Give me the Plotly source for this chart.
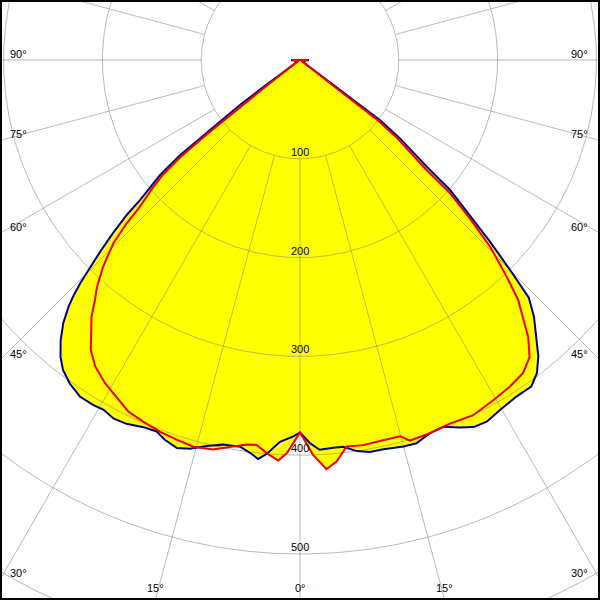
import numpy as np
import plotly.graph_objects as go

# ---- data: luminous intensity (cd/klm) vs angle (deg, negative = left half) ----
blue_angles = [-90, -60, -53.5, -53.1, -52.4, -52.0, -51.6, -50.6, -49.5, -48.8, -48.2, -47.2,
               -46.2, -45.4, -44.6, -43.8, -43.2, -42.0, -40.5, -38.9, -37.4, -35.4, -33.2,
               -30.9, -29.3, -27.5, -25.5, -23.1, -21.1, -19.6, -17.6, -15.8, -13.6, -11.3,
               -8.8, -7.2, -6.0, -4.8, -3.0, -1.0, 0, 1.5, 2.9, 4.9, 6.4, 8.25, 10.1, 12.1,
               14.0, 15.0, 16.9, 19.2, 21.35, 23.5, 25.3, 27.3, 29.7, 32.8, 35.3, 37.1, 38.8,
               40.5, 42.35, 43.9, 45.0, 46.3, 47.6, 49.1, 49.9, 51.9, 53.1, 53.1, 53.5, 60, 90]
blue_values = [9, 2, 50, 76, 102, 128, 155, 183, 200, 215, 235, 258,
               280, 298, 316, 332, 342, 358, 373, 386, 395, 402, 407,
               407, 406, 409, 408, 404, 403, 408, 412, 409, 402, 397,
               396, 401, 406, 400, 387, 381, 377, 388, 395, 394, 394, 400, 403, 403,
               404, 405, 405.5, 400, 398.5, 405.5, 411, 412, 408, 405, 405, 397.5, 385,
               368.5, 351.5, 334, 301, 266, 233, 201, 168, 128.6, 101, 76, 50, 2, 9]

red_angles = [-90, -60, -52.3, -51.95, -51.5, -51.3, -51.0, -50.1, -49.0, -47.5, -46.7, -45.5,
              -43.6, -42.1, -41.5, -40.5, -39.05, -35.8, -33.75, -31.1, -28.6, -26.0, -23.4,
              -20.6, -18.0, -15.4, -12.6, -10.2, -7.9, -6.4, -4.8, -3.1, -1.9, 0, 1.9, 3.7,
              5.2, 6.9, 9.3, 12.3, 14.9, 16.1, 19.2, 22.4, 26.0, 29.6, 32.7, 35.5, 37.7, 39.5,
              41.0, 42.3, 43.65, 45.5, 47.0, 48.4, 49.0, 51.2, 52.25, 52.0, 52.3, 60, 90]
red_values = [8, 2, 45, 74, 100, 126, 153, 181, 198, 220, 241, 265,
              289, 305, 311, 319.5, 335, 362, 373, 382, 388, 396, 399,
              402, 404, 406, 404, 398, 393, 392, 399.5, 406, 398, 377, 400, 415,
              408, 394, 395, 394, 394, 401, 400, 398, 400, 396, 393, 389, 380, 363,
              344, 328, 303, 270, 235, 203, 170, 126.5, 99, 74, 45, 2, 8]

ring_values = [100, 200, 300, 400, 500, 600]
ring_labels = ["100", "200", "300", "400", "500"]
side_angles = [90, 75, 60, 45, 30]
bottom_angles = [-15, 0, 15]

# ---- geometry ----
PX = 0.988                      # pixels per unit
X_HALF = 300 / PX
Y_TOP = 60 / PX
Y_BOT = -540 / PX


def to_xy(angles, values):
    a = np.radians(np.asarray(angles, dtype=float))
    v = np.asarray(values, dtype=float)
    return v * np.sin(a), -v * np.cos(a)


fig = go.Figure()

# yellow fill (union of both curves)
for ang, val in ((blue_angles, blue_values), (red_angles, red_values)):
    x, y = to_xy(ang, val)
    fig.add_trace(go.Scatter(x=x, y=y, mode="lines", fill="toself",
                             fillcolor="#ffff00", line=dict(width=0, color="#ffff00"),
                             hoverinfo="skip", showlegend=False))

GRID = "rgba(130,130,130,0.55)"
# rings
t = np.linspace(0, 2 * np.pi, 721)
for r in ring_values:
    fig.add_trace(go.Scatter(x=r * np.sin(t), y=r * np.cos(t), mode="lines",
                             line=dict(color=GRID, width=1), hoverinfo="skip",
                             showlegend=False))
# radial spokes every 15 deg from r=100 outward
gx, gy = [], []
for d in range(0, 360, 15):
    a = np.radians(d)
    gx += [100 * np.sin(a), 700 * np.sin(a), None]
    gy += [-100 * np.cos(a), -700 * np.cos(a), None]
fig.add_trace(go.Scatter(x=gx, y=gy, mode="lines", line=dict(color=GRID, width=1),
                         hoverinfo="skip", showlegend=False))

# curves (closed across the top)
for ang, val, col in ((blue_angles, blue_values, "#000099"),
                      (red_angles, red_values, "#ee0000")):
    x, y = to_xy(ang, val)
    x = np.append(x, x[0])
    y = np.append(y, y[0])
    fig.add_trace(go.Scatter(x=x, y=y, mode="lines", line=dict(color=col, width=2),
                             hoverinfo="skip", showlegend=False))

FONT = dict(family="Liberation Sans, Arial, sans-serif", size=11, color="black")
ann = []
for r, lab in zip(ring_values, ring_labels):
    ann.append(dict(x=0, y=-r + 7 / PX, text=lab, showarrow=False, xanchor="center",
                    yanchor="middle", font=FONT))
for d in side_angles:
    yexit = -X_HALF / np.tan(np.radians(d)) if d != 90 else 0.0
    yc = yexit + 6.5 / PX
    ann.append(dict(x=-X_HALF + 8 / PX, y=yc, text=f"{d}°", showarrow=False,
                    xanchor="left", yanchor="middle", font=FONT))
    ann.append(dict(x=X_HALF - 10 / PX, y=yc, text=f"{d}°", showarrow=False,
                    xanchor="right", yanchor="middle", font=FONT))
for d in bottom_angles:
    xexit = -Y_BOT * np.tan(np.radians(d))
    ann.append(dict(x=xexit, y=(60 - 588) / PX, text=f"{abs(d)}°", showarrow=False,
                    xanchor="center", yanchor="middle", font=FONT))

fig.update_layout(
    width=600, height=600, margin=dict(l=0, r=0, t=0, b=0),
    paper_bgcolor="white", plot_bgcolor="white",
    xaxis=dict(range=[-X_HALF, X_HALF], visible=False, fixedrange=True),
    yaxis=dict(range=[Y_BOT, Y_TOP], visible=False, fixedrange=True),
    annotations=ann,
    shapes=[dict(type="rect", xref="paper", yref="paper", x0=0, y0=0, x1=1, y1=1,
                 line=dict(color="black", width=4), layer="above")],
)

fig.write_html("out.html", config={"displayModeBar": False},
               post_script="document.body.style.margin='0';document.body.style.overflow='hidden';")
